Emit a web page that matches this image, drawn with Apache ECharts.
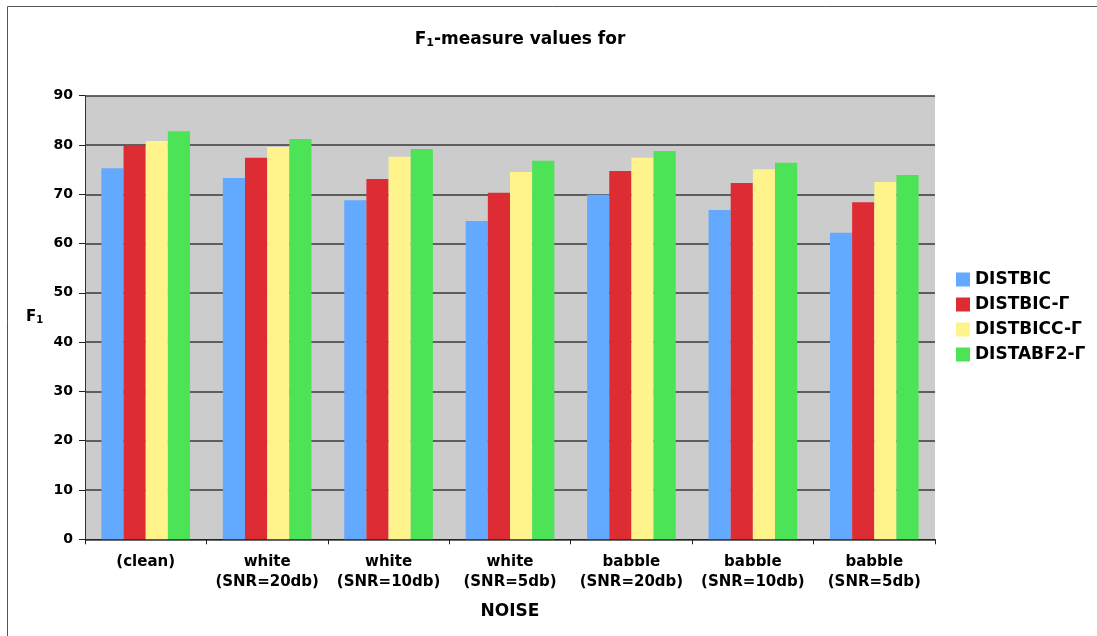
<!DOCTYPE html>
<html>
<head>
<meta charset="utf-8">
<script src="https://cdn.jsdelivr.net/npm/echarts@6/dist/echarts.min.js"></script>
<style>
html,body{margin:0;padding:0;background:#fff;}
#chart{width:1097px;height:636px;}
</style>
</head>
<body>
<div id="chart"></div>
<script>
var categories = ["(clean)", "white\n(SNR=20db)", "white\n(SNR=10db)", "white\n(SNR=5db)", "babble\n(SNR=20db)", "babble\n(SNR=10db)", "babble\n(SNR=5db)"];
var seriesNames = ["DISTBIC", "DISTBIC-Γ", "DISTBICC-Γ", "DISTABF2-Γ"];
var distbic   = [75.3, 73.3, 68.8, 64.6, 69.9, 66.8, 62.2];
var distbicG  = [79.9, 77.4, 73.1, 70.3, 74.7, 72.3, 68.4];
var distbiccG = [80.8, 79.6, 77.6, 74.5, 77.4, 75.1, 72.5];
var distabf2G = [82.8, 81.2, 79.2, 76.8, 78.8, 76.4, 73.9];
var yTicks = [0, 10, 20, 30, 40, 50, 60, 70, 80, 90];

var colors = ["#63a9ff", "#dd2c33", "#fff38c", "#4de356"];
var font = "'DejaVu Sans', Verdana, sans-serif";
var seriesData = [distbic, distbicG, distbiccG, distabf2G];

var chart = echarts.init(document.getElementById('chart'), null, {renderer: 'canvas'});
var option = {
  animation: false,
  backgroundColor: '#ffffff',
  title: {
    text: '{a|F}{s|1}{a|-measure values for}',
    left: 515, top: 26, textAlign: 'center',
    textStyle: {
      rich: {
        a: {fontFamily: font, fontWeight: 'bold', fontSize: 17, color: '#000'},
        s: {fontFamily: font, fontWeight: 'bold', fontSize: 11, color: '#000', verticalAlign: 'bottom', padding: [7, 0, 0, 0]}
      }
    }
  },
  graphic: [
    {type: 'rect', shape: {x: 7.5, y: 6.5, width: 1300, height: 1000}, style: {fill: 'none', stroke: '#555', lineWidth: 1}, silent: true},
    {type: 'text', left: 26, top: 310, style: {text: '{a|F}{s|1}', rich: {
      a: {fontFamily: font, fontWeight: 'bold', fontSize: 15, fill: '#000'},
      s: {fontFamily: font, fontWeight: 'bold', fontSize: 10, fill: '#000', verticalAlign: 'bottom', padding: [6, 0, 0, 0]}
    }}}
  ],
  legend: {
    orient: 'vertical',
    left: 951, top: 266,
    itemWidth: 14, itemHeight: 14, itemGap: 8,
    icon: 'rect',
    data: seriesNames,
    textStyle: {fontFamily: font, fontWeight: 'bold', fontSize: 17, lineHeight: 17, color: '#000'}
  },
  grid: {left: 85, right: 162, top: 95.7, bottom: 96.7, show: true, backgroundColor: '#cccccc', borderWidth: 0},
  xAxis: {
    type: 'category',
    data: categories,
    name: 'NOISE',
    nameLocation: 'middle',
    nameGap: 64,
    nameTextStyle: {fontFamily: font, fontWeight: 'bold', fontSize: 17, color: '#000'},
    axisLine: {show: true, lineStyle: {color: '#222', width: 1}},
    axisTick: {show: true, alignWithLabel: false, length: 5, lineStyle: {color: '#222'}},
    axisLabel: {fontFamily: font, fontWeight: 'bold', fontSize: 15, color: '#000', lineHeight: 20, margin: 13, interval: 0}
  },
  yAxis: {
    type: 'value',
    min: 0, max: 90, interval: 10,
    axisLine: {show: true, lineStyle: {color: '#333', width: 1}},
    axisTick: {show: true, length: 6, lineStyle: {color: '#222'}},
    axisLabel: {fontFamily: font, fontWeight: 'bold', fontSize: 14, color: '#000', margin: 12},
    splitLine: {show: true, lineStyle: {color: '#3a3a3a', width: 1.5}}
  },
  series: seriesNames.map(function (n, i) {
    return {
      name: n, type: 'bar',
      data: seriesData[i],
      barGap: '0%', barCategoryGap: '27%',
      itemStyle: {color: colors[i]}
    };
  })
};
chart.setOption(option);
</script>
</body>
</html>
